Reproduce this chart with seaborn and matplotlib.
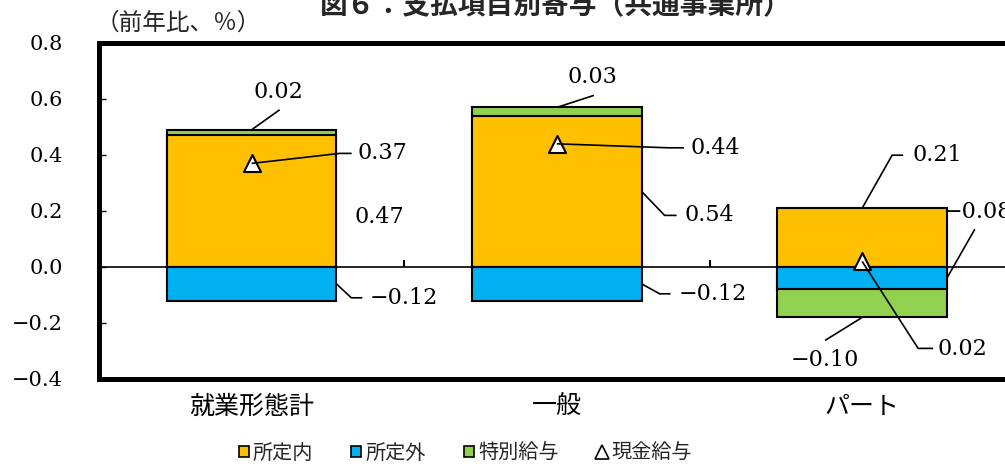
import numpy as np
import matplotlib
matplotlib.use("Agg")
import matplotlib.pyplot as plt
import seaborn as sns
from matplotlib.patches import Patch
from matplotlib.lines import Line2D

# ---- data (前年比寄与度, %) ----
categories = ["就業形態計", "一般", "パート"]
scheduled = [0.47, 0.54, 0.21]      # 所定内
overtime = [-0.12, -0.12, -0.08]    # 所定外
bonus = [0.02, 0.03, -0.10]         # 特別給与
total_cash = [0.37, 0.44, 0.02]     # 現金給与
series_names = ["所定内", "所定外", "特別給与", "現金給与"]
yticks = [-0.4, -0.2, 0.0, 0.2, 0.4, 0.6, 0.8]

colors = {"所定内": "#FFC000", "所定外": "#00B0F0", "特別給与": "#92D050"}

sns.set_theme(style="white")
plt.rcParams["font.family"] = ["Noto Sans CJK JP", "DejaVu Sans"]
NUM_FONT = ["DejaVu Serif", "Noto Sans CJK JP"]

W, H = 1005, 466
fig = plt.figure(figsize=(W / 100, H / 100), dpi=100)
step = 305.25
ax = fig.add_axes([99 / W, 1 - 379 / H, 3 * step / W, (379 - 43) / H])

BAR_W = 0.555
bar_kw = dict(width=BAR_W, saturation=1, edgecolor="black", linewidth=1.5,
              errorbar=None, ax=ax)

# stacked bars: 特別給与 sits on top of 所定内 when positive, below 所定外 when negative
bonus_end = [s + b if b >= 0 else o + b for s, o, b in zip(scheduled, overtime, bonus)]
sns.barplot(x=categories, y=bonus_end, color=colors["特別給与"], zorder=2, **bar_kw)
sns.barplot(x=categories, y=scheduled, color=colors["所定内"], zorder=3, **bar_kw)
sns.barplot(x=categories, y=overtime, color=colors["所定外"], zorder=3, **bar_kw)

# 現金給与 markers
sns.scatterplot(x=np.arange(len(categories)), y=total_cash, marker="^", s=150,
                color="white", edgecolor="black", linewidth=1.5, zorder=5,
                legend=False, ax=ax)

ax.set_xlim(-0.5, len(categories) - 0.5)
ax.set_ylim(yticks[0], yticks[-1])

# zero line with category separators
ax.axhline(0, color="black", linewidth=1.2, zorder=4)
ax.vlines(np.arange(len(categories) - 1) + 0.5, 0, 0.025, color="black",
          linewidth=1.5, zorder=4)

ax.set_yticks(yticks)
ax.set_yticklabels([f"{v:.1f}".replace("-", "−") for v in yticks],
                   fontfamily=NUM_FONT, fontsize=15)
ax.tick_params(axis="y", direction="in", left=True, length=5, width=1,
               pad=26, colors="black")
ax.set_xticks(np.arange(len(categories)))
ax.set_xticklabels(categories, fontsize=18)
ax.tick_params(axis="x", length=0, pad=11, colors="black")
ax.set_xlabel("")
ax.set_ylabel("")
for side in ["left", "top", "bottom", "right"]:
    ax.spines[side].set_color("black")
    ax.spines[side].set_linewidth(3.6)

# ---- value labels with leader lines (offsets in pixels, y downward) ----
hw = BAR_W / 2


def fmt(v):
    return f"{v:.2f}".replace("-", "−")


labels = [
    (fmt(bonus[0]), (0, scheduled[0] + bonus[0]), [(28, -20)], (27, -38), "center"),
    (fmt(total_cash[0]), (0, total_cash[0]), [(88, -10), (100, -10)], (106, -10), "left"),
    (fmt(scheduled[0]), (0 + hw, scheduled[0] / 2), [], (18, 16), "left"),
    (fmt(overtime[0]), (0 + hw, overtime[0] / 2), [(15, 14), (26, 14)], (33, 14), "left"),
    (fmt(bonus[1]), (1, scheduled[1] + bonus[1]), [(37, -12)], (36, -30), "center"),
    (fmt(total_cash[1]), (1, total_cash[1]), [(111, 4), (127, 4)], (134, 4), "left"),
    (fmt(scheduled[1]), (1 + hw, scheduled[1] / 2), [(23, 24), (35, 24)], (43, 24), "left"),
    (fmt(overtime[1]), (1 + hw, overtime[1] / 2), [(18, 10), (29, 10)], (37, 10), "left"),
    (fmt(scheduled[2]), (2, scheduled[2]), [(30, -53), (41, -53)], (50, -53), "left"),
    (fmt(overtime[2]), (2 + hw, overtime[2] / 2), [(28, -49)], (-3, -66), "left"),
    (fmt(bonus[2]), (2, overtime[2] + bonus[2]), [(-37, 23)], (-37, 43), "center"),
    (fmt(total_cash[2]), (2, total_cash[2]), [(56, 87), (71, 87)], (75, 88), "left"),
]

to_data = ax.transData.inverted()
for text, anchor, path, toff, ha in labels:
    ax_px = ax.transData.transform(anchor)
    pts = [ax_px] + [ax_px + np.array([dx, -dy]) for dx, dy in path]
    if len(pts) > 1:
        d = to_data.transform(np.array(pts))
        ax.plot(d[:, 0], d[:, 1], color="black", linewidth=1.2, zorder=6,
                solid_capstyle="butt", clip_on=False)
    tx, ty = to_data.transform(ax_px + np.array([toff[0], -toff[1]]))
    ax.text(tx, ty, text, ha=ha, va="center", fontfamily=NUM_FONT,
            fontsize=16, color="black", zorder=7, clip_on=False)

# ---- title, unit label, legend ----
fig.text(556 / W, 1 - 5 / H, "図６：支払項目別寄与（共通事業所）", ha="center",
         va="center", fontsize=20, fontweight="bold")
fig.text(96 / W, 1 - 23 / H, "（前年比、％）", ha="left", va="center", fontsize=17)

handles = [Patch(facecolor=colors[n], edgecolor="black", linewidth=1.2)
           for n in series_names[:3]]
handles.append(Line2D([], [], marker="^", linestyle="none", markerfacecolor="white",
                      markeredgecolor="black", markeredgewidth=1.2, markersize=10))
fig.legend(handles, series_names, loc="center", bbox_to_anchor=(465 / W, 1 - 453 / H),
           ncol=4, frameon=False, fontsize=14.5, handlelength=0.5, handleheight=0.5,
           handletextpad=0.2, columnspacing=1.9)

fig.savefig("out.png", dpi=100)
